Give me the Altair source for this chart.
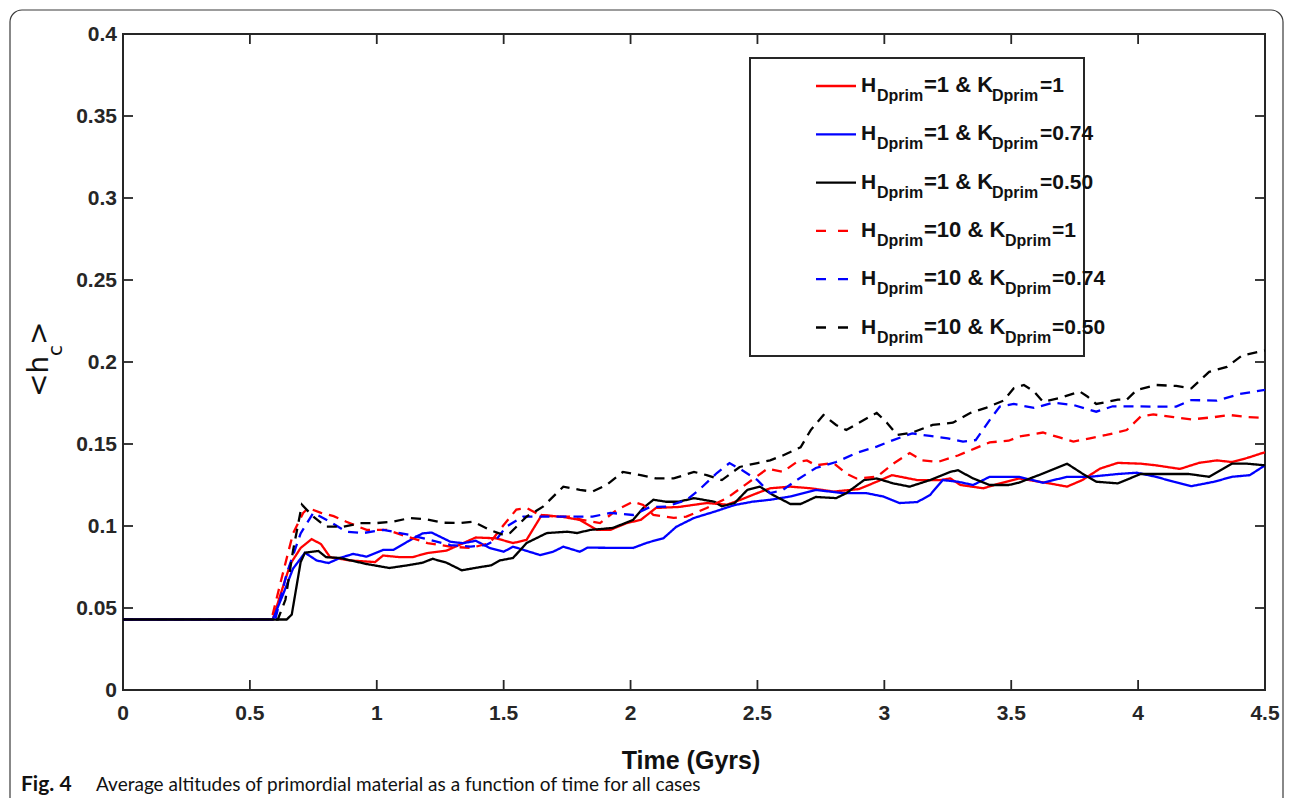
import altair as alt
import pandas as pd

# ---------------- data ----------------
SERIES = [
    "H=1 & K=1", "H=1 & K=0.74", "H=1 & K=0.50",
    "H=10 & K=1", "H=10 & K=0.74", "H=10 & K=0.50",
]
H_VALS = ["1", "1", "1", "10", "10", "10"]
K_VALS = ["1", "0.74", "0.50", "1", "0.74", "0.50"]
COLORS = ["#ff0000", "#0000ff", "#000000", "#ff0000", "#0000ff", "#000000"]
DASHED = [False, False, False, True, True, True]

RED_SOLID = [(0, 0.043), (0.59, 0.043), (0.62, 0.058), (0.66, 0.077), (0.70, 0.0866), (0.743, 0.092),
             (0.78, 0.089), (0.816, 0.081), (0.894, 0.079), (0.993, 0.078), (1.025, 0.082), (1.09, 0.081),
             (1.14, 0.081), (1.20, 0.0835), (1.275, 0.085), (1.34, 0.0895), (1.39, 0.093), (1.47, 0.0925),
             (1.537, 0.0896), (1.59, 0.0915), (1.65, 0.1067), (1.735, 0.1055), (1.80, 0.1037), (1.867, 0.0976),
             (1.92, 0.0976), (1.985, 0.1018), (2.04, 0.1037), (2.10, 0.111), (2.19, 0.1116), (2.30, 0.114),
             (2.38, 0.113), (2.43, 0.1158), (2.51, 0.1207), (2.55, 0.123), (2.63, 0.124), (2.71, 0.123),
             (2.80, 0.121), (2.90, 0.1225), (2.97, 0.127), (3.03, 0.131), (3.13, 0.128), (3.22, 0.128),
             (3.26, 0.129), (3.30, 0.125), (3.39, 0.123), (3.455, 0.126), (3.53, 0.129), (3.65, 0.126),
             (3.72, 0.124), (3.78, 0.128), (3.85, 0.135), (3.92, 0.1385), (4.01, 0.138), (4.07, 0.137),
             (4.165, 0.1348), (4.24, 0.1385), (4.31, 0.14), (4.37, 0.139), (4.43, 0.1415), (4.5, 0.145)]

BLUE_SOLID = [(0, 0.043), (0.59, 0.043), (0.63, 0.058), (0.67, 0.074), (0.717, 0.0837), (0.763, 0.079),
              (0.81, 0.0774), (0.855, 0.0805), (0.907, 0.083), (0.96, 0.0813), (1.025, 0.0854), (1.065, 0.0854),
              (1.12, 0.0904), (1.18, 0.0955), (1.216, 0.096), (1.29, 0.0904), (1.34, 0.0895), (1.39, 0.091),
              (1.445, 0.0866), (1.50, 0.0843), (1.537, 0.0874), (1.643, 0.0823), (1.695, 0.0843), (1.735, 0.0874),
              (1.80, 0.0843), (1.83, 0.0868), (2.01, 0.0866), (2.065, 0.0898), (2.13, 0.0926), (2.18, 0.0995),
              (2.25, 0.1049), (2.33, 0.1087), (2.41, 0.1128), (2.48, 0.1148), (2.55, 0.116), (2.63, 0.118),
              (2.73, 0.122), (2.84, 0.120), (2.93, 0.120), (2.995, 0.118), (3.06, 0.114), (3.13, 0.1146),
              (3.18, 0.1189), (3.23, 0.128), (3.29, 0.127), (3.35, 0.125), (3.415, 0.130), (3.49, 0.130),
              (3.53, 0.130), (3.625, 0.1264), (3.72, 0.130), (3.81, 0.130), (3.92, 0.1317), (3.995, 0.1325),
              (4.07, 0.130), (4.14, 0.127), (4.21, 0.1243), (4.30, 0.127), (4.37, 0.130), (4.44, 0.131),
              (4.5, 0.137)]

BLACK_SOLID = [(0, 0.043), (0.645, 0.043), (0.665, 0.046), (0.70, 0.078), (0.717, 0.0837), (0.77, 0.0848),
               (0.80, 0.081), (0.855, 0.0805), (0.96, 0.0768), (1.05, 0.0744), (1.12, 0.076), (1.18, 0.0776),
               (1.22, 0.080), (1.275, 0.0776), (1.335, 0.073), (1.41, 0.075), (1.45, 0.076), (1.485, 0.079),
               (1.537, 0.0805), (1.59, 0.0896), (1.67, 0.0957), (1.75, 0.0965), (1.79, 0.0957), (1.84, 0.0976),
               (1.93, 0.0988), (2.01, 0.1037), (2.05, 0.111), (2.09, 0.116), (2.14, 0.1148), (2.19, 0.1148),
               (2.25, 0.117), (2.33, 0.1148), (2.36, 0.112), (2.41, 0.114), (2.46, 0.122), (2.51, 0.124),
               (2.56, 0.119), (2.63, 0.1134), (2.67, 0.1134), (2.73, 0.1177), (2.81, 0.117), (2.85, 0.120),
               (2.92, 0.128), (2.97, 0.129), (3.035, 0.126), (3.10, 0.124), (3.18, 0.128), (3.26, 0.133),
               (3.29, 0.134), (3.35, 0.129), (3.415, 0.125), (3.49, 0.125), (3.53, 0.1264), (3.625, 0.132),
               (3.72, 0.138), (3.78, 0.132), (3.835, 0.127), (3.92, 0.126), (4.01, 0.1317), (4.085, 0.1317),
               (4.20, 0.1317), (4.28, 0.130), (4.37, 0.138), (4.43, 0.138), (4.5, 0.137)]

RED_DASHED = [(0, 0.043), (0.585, 0.043), (0.62, 0.065), (0.67, 0.0955), (0.71, 0.108), (0.73, 0.111),
              (0.78, 0.108), (0.83, 0.106), (0.88, 0.1026), (0.96, 0.0976), (1.04, 0.0976), (1.12, 0.0935),
              (1.20, 0.0896), (1.29, 0.0874), (1.37, 0.0866), (1.445, 0.0896), (1.50, 0.1006), (1.55, 0.110),
              (1.59, 0.111), (1.643, 0.1067), (1.71, 0.1057), (1.76, 0.1057), (1.81, 0.1037), (1.88, 0.1018),
              (1.945, 0.1098), (2.01, 0.1148), (2.05, 0.1128), (2.09, 0.1067), (2.17, 0.1049), (2.22, 0.1057),
              (2.30, 0.111), (2.38, 0.117), (2.46, 0.126), (2.54, 0.135), (2.60, 0.133), (2.655, 0.139),
              (2.695, 0.140), (2.73, 0.137), (2.80, 0.1384), (2.85, 0.132), (2.89, 0.129), (2.97, 0.130),
              (3.035, 0.138), (3.10, 0.1445), (3.15, 0.140), (3.21, 0.139), (3.29, 0.143), (3.36, 0.1475),
              (3.415, 0.151), (3.49, 0.152), (3.53, 0.1545), (3.625, 0.157), (3.69, 0.154), (3.745, 0.1515),
              (3.81, 0.1535), (3.875, 0.1555), (3.955, 0.1585), (4.01, 0.1667), (4.06, 0.168), (4.14, 0.1664),
              (4.21, 0.165), (4.30, 0.1664), (4.36, 0.1677), (4.43, 0.1664), (4.5, 0.166)]

BLUE_DASHED = [(0, 0.043), (0.60, 0.043), (0.645, 0.071), (0.70, 0.0955), (0.75, 0.108), (0.815, 0.1026),
               (0.88, 0.0965), (0.946, 0.0957), (1.025, 0.0976), (1.065, 0.0965), (1.13, 0.0945), (1.21, 0.0915),
               (1.29, 0.0884), (1.37, 0.0874), (1.43, 0.0884), (1.47, 0.0915), (1.51, 0.0996), (1.577, 0.1057),
               (1.67, 0.1057), (1.75, 0.1057), (1.85, 0.1057), (1.92, 0.108), (2.01, 0.1067), (2.077, 0.1116),
               (2.14, 0.1118), (2.22, 0.1158), (2.27, 0.122), (2.34, 0.1323), (2.39, 0.1384), (2.44, 0.134),
               (2.50, 0.128), (2.55, 0.120), (2.60, 0.122), (2.655, 0.128), (2.73, 0.1354), (2.81, 0.139),
               (2.89, 0.1445), (2.97, 0.1484), (3.035, 0.1524), (3.11, 0.1565), (3.18, 0.1549), (3.25, 0.1535),
               (3.31, 0.1515), (3.36, 0.1524), (3.415, 0.1646), (3.455, 0.1728), (3.51, 0.1744), (3.59, 0.172),
               (3.665, 0.1752), (3.745, 0.1738), (3.835, 0.1697), (3.90, 0.173), (3.98, 0.173), (4.07, 0.1728),
               (4.15, 0.1728), (4.21, 0.1768), (4.31, 0.1764), (4.40, 0.1805), (4.5, 0.183)]

BLACK_DASHED = [(0, 0.043), (0.61, 0.043), (0.64, 0.055), (0.67, 0.085), (0.705, 0.113), (0.75, 0.1057),
                (0.80, 0.0996), (0.87, 0.0996), (0.935, 0.1018), (1.0, 0.1018), (1.065, 0.1026), (1.13, 0.1049),
                (1.20, 0.104), (1.26, 0.102), (1.33, 0.1018), (1.38, 0.1026), (1.445, 0.0976), (1.50, 0.0945),
                (1.525, 0.0957), (1.59, 0.1057), (1.655, 0.1118), (1.735, 0.124), (1.80, 0.122), (1.85, 0.121),
                (1.905, 0.125), (1.97, 0.133), (2.04, 0.131), (2.10, 0.129), (2.17, 0.129), (2.25, 0.133),
                (2.30, 0.131), (2.36, 0.128), (2.43, 0.136), (2.50, 0.1384), (2.55, 0.140), (2.60, 0.143),
                (2.67, 0.148), (2.71, 0.1585), (2.76, 0.1677), (2.81, 0.1616), (2.85, 0.1585), (2.90, 0.163),
                (2.97, 0.169), (3.01, 0.163), (3.05, 0.1555), (3.11, 0.157), (3.19, 0.1616), (3.27, 0.163),
                (3.34, 0.169), (3.40, 0.172), (3.47, 0.1765), (3.51, 0.184), (3.55, 0.186), (3.59, 0.182),
                (3.625, 0.1758), (3.69, 0.178), (3.77, 0.182), (3.80, 0.179), (3.835, 0.1744), (3.92, 0.177),
                (3.955, 0.177), (3.995, 0.183), (4.07, 0.186), (4.15, 0.1854), (4.21, 0.184), (4.28, 0.194),
                (4.35, 0.197), (4.41, 0.204), (4.5, 0.207)]

SERIES_POINTS = [RED_SOLID, BLUE_SOLID, BLACK_SOLID, RED_DASHED, BLUE_DASHED, BLACK_DASHED]

X_TICKS = [0, 0.5, 1, 1.5, 2, 2.5, 3, 3.5, 4, 4.5]
Y_TICKS = [0, 0.05, 0.1, 0.15, 0.2, 0.25, 0.3, 0.35, 0.4]
X_TICK_LABELS = ["0", "0.5", "1", "1.5", "2", "2.5", "3", "3.5", "4", "4.5"]
Y_TICK_LABELS = ["0", "0.05", "0.1", "0.15", "0.2", "0.25", "0.3", "0.35", "0.4"]

X_TITLE = "Time (Gyrs)"
CAPTION_BOLD = "Fig. 4"
CAPTION = "Average altitudes of primordial material as a function of time for all cases"

# ---------------- layout / style ----------------
W, H = 1142, 656
AX = "#262626"
BOLD = "Liberation Sans"
TL = 10  # inner tick length

rows = []
for name, pts in zip(SERIES, SERIES_POINTS):
    for t, v in pts:
        rows.append({"series": name, "t": t, "v": v})
df = pd.DataFrame(rows)

xs = alt.Scale(domain=[0, 4.5], nice=False, zero=False)
ys = alt.Scale(domain=[0, 0.4], nice=False, zero=False)
dash_range = [[10, 7] if d else [1, 0] for d in DASHED]

lines = alt.Chart(df).mark_line(strokeWidth=2.3, clip=True).encode(
    x=alt.X("t:Q", scale=xs, axis=None),
    y=alt.Y("v:Q", scale=ys, axis=None),
    color=alt.Color("series:N", scale=alt.Scale(domain=SERIES, range=COLORS), legend=None),
    strokeDash=alt.StrokeDash("series:N", scale=alt.Scale(domain=SERIES, range=dash_range), legend=None),
    detail="series:N",
)

xt = pd.DataFrame({"t": X_TICKS, "lab": X_TICK_LABELS})
yt = pd.DataFrame({"v": Y_TICKS, "lab": Y_TICK_LABELS})
tick_style = dict(color=AX, strokeWidth=1.8)
ticks = [
    alt.Chart(xt).mark_rule(**tick_style).encode(x=alt.X("t:Q", scale=xs, axis=None), y=alt.value(H), y2=alt.value(H - TL)),
    alt.Chart(xt).mark_rule(**tick_style).encode(x=alt.X("t:Q", scale=xs, axis=None), y=alt.value(0), y2=alt.value(TL)),
    alt.Chart(yt).mark_rule(**tick_style).encode(y=alt.Y("v:Q", scale=ys, axis=None), x=alt.value(0), x2=alt.value(TL)),
    alt.Chart(yt).mark_rule(**tick_style).encode(y=alt.Y("v:Q", scale=ys, axis=None), x=alt.value(W), x2=alt.value(W - TL)),
]
tick_labels = [
    alt.Chart(xt).mark_text(align="center", baseline="alphabetic", font=BOLD, fontWeight="bold",
                            fontSize=21, color=AX).encode(
        x=alt.X("t:Q", scale=xs, axis=None), y=alt.value(H + 30), text="lab:N"),
    alt.Chart(yt).mark_text(align="right", baseline="middle", font=BOLD, fontWeight="bold",
                            fontSize=21, color=AX, dy=1).encode(
        y=alt.Y("v:Q", scale=ys, axis=None), x=alt.value(-6), text="lab:N"),
]

one = pd.DataFrame({"a": [0]})

# outer figure frame (decoration)
frame = alt.Chart(one).mark_rect(filled=False, stroke="#3a3a3a", strokeWidth=1.2, cornerRadius=12).encode(
    x=alt.value(-113), x2=alt.value(1160), y=alt.value(-24), y2=alt.value(820))

# legend box
legend_layers = [
    alt.Chart(one).mark_rect(fill="white", stroke=AX, strokeWidth=2).encode(
        x=alt.value(627), x2=alt.value(961), y=alt.value(24), y2=alt.value(322))
]
for i in range(len(SERIES)):
    ry = 52 + 48.3 * i
    if DASHED[i]:
        legend_layers.append(alt.Chart(one).mark_rule(color=COLORS[i], strokeWidth=2.3, strokeDash=[10, 12]).encode(
            x=alt.value(693), x2=alt.value(726), y=alt.value(ry)))
    else:
        legend_layers.append(alt.Chart(one).mark_rule(color=COLORS[i], strokeWidth=2.3).encode(
            x=alt.value(693), x2=alt.value(733), y=alt.value(ry)))
    wide = len(H_VALS[i]) > 1
    pieces = [
        ("H", 738, 6, 21),
        ("Dprim", 754, 15, 16),
        ("=" + H_VALS[i] + " & K", 801, 6, 22),
        ("Dprim", 882 if wide else 869, 15, 16),
        ("=" + K_VALS[i], 929 if wide else 917, 6, 21),
    ]
    for txt, px, dy, fs in pieces:
        legend_layers.append(alt.Chart(one).mark_text(
            align="left", baseline="alphabetic", font=BOLD, fontWeight="bold", fontSize=fs, color="#111111").encode(
            x=alt.value(px), y=alt.value(ry + dy), text=alt.value(txt)))

# y-axis title <h_c>
ytitle = [
    alt.Chart(one).mark_text(angle=270, align="left", baseline="alphabetic", font="DejaVu Sans",
                             fontSize=28, color="#111111").encode(x=alt.value(-75), y=alt.value(363), text=alt.value("<h")),
    alt.Chart(one).mark_text(angle=270, align="left", baseline="alphabetic", font="DejaVu Sans",
                             fontSize=20, color="#111111").encode(x=alt.value(-61), y=alt.value(322), text=alt.value("c")),
    alt.Chart(one).mark_text(angle=270, align="left", baseline="alphabetic", font="DejaVu Sans",
                             fontSize=28, color="#111111").encode(x=alt.value(-75), y=alt.value(311), text=alt.value(">")),
]

xtitle = alt.Chart(one).mark_text(align="center", baseline="alphabetic", font=BOLD, fontWeight="bold",
                                  fontSize=25, color="#111111").encode(
    x=alt.value(568), y=alt.value(735), text=alt.value(X_TITLE))

caption = [
    alt.Chart(one).mark_text(align="left", baseline="alphabetic", font="Lato", fontWeight="bold",
                             fontSize=21, color="#111111").encode(
        x=alt.value(-102), y=alt.value(757), text=alt.value(CAPTION_BOLD)),
    alt.Chart(one).mark_text(align="left", baseline="alphabetic", font="Lato",
                             fontSize=19, color="#111111").encode(
        x=alt.value(-27), y=alt.value(757), text=alt.value(CAPTION)),
]

chart = alt.layer(frame, lines, *ticks, *tick_labels, *legend_layers, *ytitle, xtitle, *caption).properties(
    width=W, height=H,
    autosize=alt.AutoSizeParams(type="none"),
    padding={"left": 115, "top": 26, "right": 19, "bottom": 108},
    background="white",
).configure_view(stroke=AX, strokeWidth=2)

chart.save("out.html", embed_options={"renderer": "svg", "actions": False})
